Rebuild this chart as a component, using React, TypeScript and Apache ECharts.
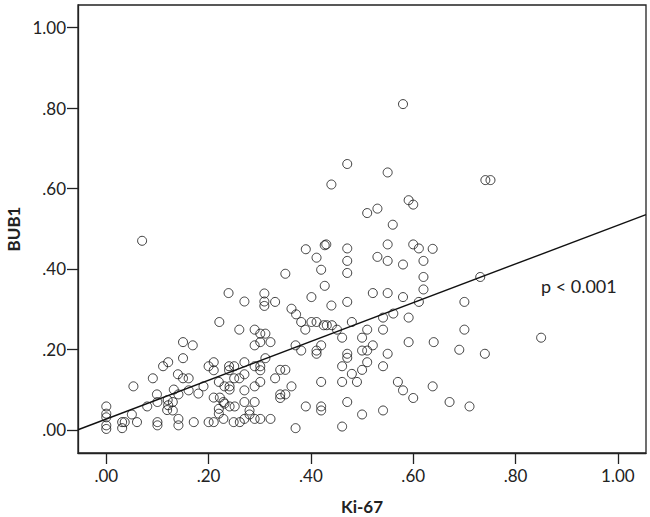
import React, { useEffect, useRef } from "react";
import * as echarts from "echarts";

const ki67: number[] = [
  0, 0, 0, 0, 0, .031, .036, .031, .060, .053, .050, .080, .099, .100, .100, .100,
  .120, .130, .121, .119, .130, .132, .141, .141, .141, .161, .171, .180, .190, .200,
  .210, .210, .222, .220, .220, .231, .220, .231, .241, .241, .241, .251, .249, .261,
  .270, .270, .270, .280, .280, .091, .111, .121, .140, .150, .161, .150, .169, .150,
  .200, .210, .210, .070, .239, .270, .221, .309, .309, .309, .330, .260, .290, .301,
  .311, .290, .301, .321, .362, .371, .381, .401, .411, .389, .425, .370, .381, .411,
  .411, .420, .240, .250, .240, .270, .290, .301, .301, .311, .250, .260, .270, .290,
  .301, .330, .340, .350, .340, .350, .340, .362, .229, .290, .290, .301, .321, .229,
  .390, .420, .420, .420, .370, .440, .471, .431, .441, .451, .480, .461, .510, .500,
  .541, .561, .591, .541, .611, .471, .471, .500, .510, .521, .550, .591, .640, .461,
  .480, .500, .510, .541, .461, .490, .570, .580, .600, .638, .471, .500, .541, .461,
  .700, .700, .690, .740, .850, .671, .710, .390, .411, .427, .420, .427, .350, .401,
  .580, .471, .550, .440, .591, .600, .510, .530, .560, .430, .471, .471, .471, .550,
  .600, .611, .638, .530, .550, .580, .620, .620, .521, .550, .580, .620, .741, .751,
  .731,
];

const bub1: number[] = [
  .058, .040, .031, .011, .002, .019, .019, .004, .019, .108, .038, .058, .088, .069, .019, .011,
  .074, .069, .061, .049, .048, .100, .088, .027, .011, .098, .019, .090, .108, .019,
  .019, .080, .080, .052, .040, .065, .119, .108, .108, .100, .058, .058, .019, .019,
  .098, .069, .027, .048, .038, .128, .158, .168, .138, .128, .128, .218, .210, .178,
  .158, .168, .148, .470, .340, .319, .268, .339, .319, .308, .318, .249, .249, .239,
  .239, .210, .218, .218, .301, .287, .268, .268, .268, .249, .260, .210, .197, .197,
  .189, .210, .158, .158, .148, .168, .158, .158, .148, .178, .128, .128, .138, .108,
  .119, .128, .149, .149, .088, .088, .079, .108, .069, .069, .027, .027, .027, .027,
  .058, .119, .058, .048, .004, .309, .318, .260, .260, .249, .268, .229, .249, .229,
  .279, .289, .279, .249, .318, .189, .179, .197, .197, .210, .189, .218, .218, .158,
  .139, .149, .168, .158, .119, .119, .119, .098, .079, .108, .069, .038, .048, .008,
  .318, .249, .199, .189, .229, .069, .058, .449, .428, .459, .398, .358, .388, .330,
  .810, .661, .640, .610, .571, .560, .539, .550, .510, .461, .451, .420, .390, .461,
  .461, .451, .450, .430, .420, .411, .420, .380, .340, .340, .330, .349, .621, .621,
  .380,
];

const tickValues: number[] = [0, 0.2, 0.4, 0.6, 0.8, 1.0];
const xAxisName = "Ki-67";
const yAxisName = "BUB1";
const pLabel = "p < 0.001";
const fitIntercept = 0.0267;
const fitSlope = 0.482;
const xRange: [number, number] = [-0.0553, 1.055];
const yRange: [number, number] = [-0.0578, 1.0565];

const fmt = (v: number) => (Math.abs(v - 1) < 1e-9 ? "1.00" : v.toFixed(2).replace(/^0/, ""));

export default function App() {
  const ref = useRef<HTMLDivElement>(null);
  useEffect(() => {
    if (!ref.current) return;
    const chart = echarts.init(ref.current, null, { renderer: "svg" });
    const points = ki67.map((x, i) => [x, bub1[i]]);
    const fit = xRange.map((x) => [x, fitIntercept + fitSlope * x]);
    const font = "Lato, 'Open Sans', sans-serif";
    chart.setOption({
      animation: false,
      backgroundColor: "#fff",
      grid: {
        left: 78,
        right: 4,
        top: 5,
        bottom: 64,
        containLabel: false,
        outerBoundsMode: "none",
        show: true,
        borderColor: "#222",
        borderWidth: 1.3,
        backgroundColor: "transparent",
      },
      xAxis: {
        type: "value",
        min: xRange[0],
        max: xRange[1],
        name: xAxisName,
        nameLocation: "middle",
        nameGap: 45,
        nameTextStyle: { fontFamily: font, fontWeight: "bold", fontSize: 17, color: "#222" },
        axisLine: { show: true, onZero: false, lineStyle: { color: "#222", width: 1.3 } },
        axisTick: { show: true, customValues: tickValues, length: 11, lineStyle: { color: "#222", width: 1.3 } },
        axisLabel: { customValues: tickValues, formatter: fmt, margin: 14, fontFamily: font, fontSize: 17, color: "#222" },
        splitLine: { show: false },
      },
      yAxis: {
        type: "value",
        min: yRange[0],
        max: yRange[1],
        name: yAxisName,
        nameLocation: "middle",
        nameRotate: 90,
        nameGap: 53,
        nameTextStyle: { fontFamily: font, fontWeight: "bold", fontSize: 17, color: "#222" },
        axisLine: { show: true, onZero: false, lineStyle: { color: "#222", width: 1.3 } },
        axisTick: { show: true, customValues: tickValues, length: 11, lineStyle: { color: "#222", width: 1.3 } },
        axisLabel: { customValues: tickValues, formatter: fmt, margin: 12, fontFamily: font, fontSize: 17, color: "#222" },
        splitLine: { show: false },
      },
      series: [
        {
          type: "scatter",
          data: points,
          symbol: "circle",
          symbolSize: 9,
          itemStyle: { color: "rgba(255,255,255,0)", borderColor: "#111", borderWidth: 1 },
          silent: true,
          z: 3,
        },
        {
          type: "line",
          data: fit,
          symbol: "none",
          lineStyle: { color: "#111", width: 1.4 },
          silent: true,
          z: 2,
        },
      ],
      graphic: [
        {
          type: "text",
          left: 541,
          top: 277,
          style: { text: pLabel, fontFamily: font, fontSize: 18, fill: "#222" },
        },
      ],
    });
    return () => chart.dispose();
  }, []);
  return <div ref={ref} style={{ position: "fixed", left: 0, top: 0, width: 650, height: 517 }} />;
}
